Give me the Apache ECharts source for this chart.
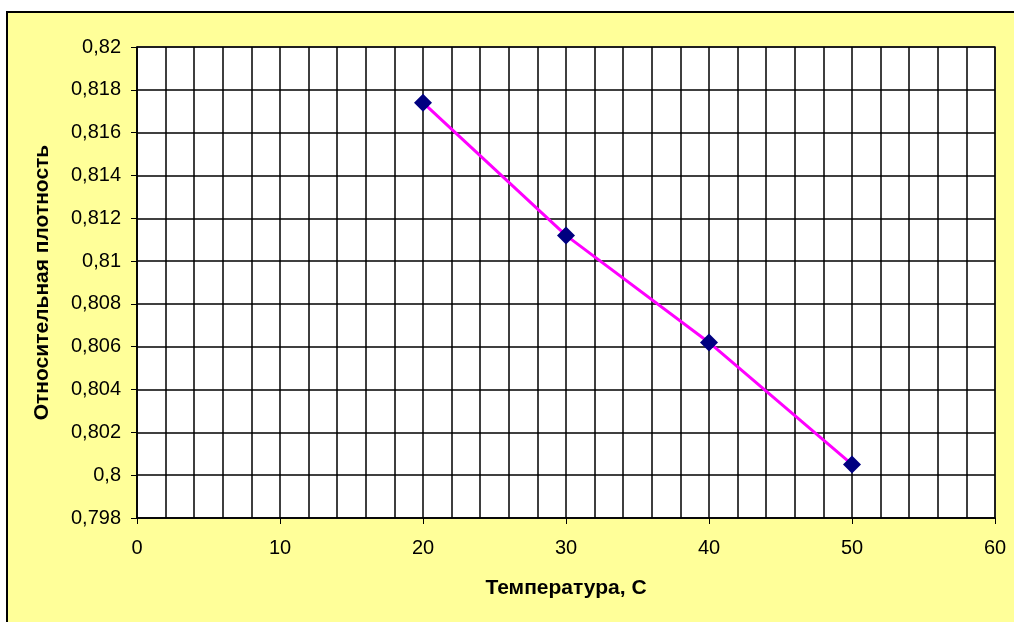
<!DOCTYPE html>
<html><head><meta charset="utf-8">
<script src="https://cdn.jsdelivr.net/npm/echarts@6/dist/echarts.min.js"></script>
<style>html,body{margin:0;padding:0;background:#fff}#c{width:1014px;height:622px}</style>
</head><body><div id="c"></div>
<script>
var temperatures = [20, 30, 40, 50];
var densities = [0.8174, 0.8112, 0.8062, 0.8005];
var xTitle = 'Температура, С';
var yTitle = 'Относительная плотность';

var chart = echarts.init(document.getElementById('c'));
var font = '"Liberation Sans", Arial, sans-serif';
function fmt(v){ return String(parseFloat(v.toFixed(3))).replace('.', ','); }
chart.setOption({
  backgroundColor: '#ffffff',
  animation: false,
  graphic: [{
    type: 'rect', z: -10, silent: true,
    shape: {x: 7, y: 12, width: 1100, height: 700},
    style: {fill: '#FFFF99', stroke: '#000', lineWidth: 2}
  }],
  grid: {left: 137, top: 47, width: 858, height: 471, show: true,
         backgroundColor: '#ffffff', borderColor: '#808080', borderWidth: 2},
  xAxis: {
    type: 'value', min: 0, max: 60, interval: 10,
    name: xTitle, nameLocation: 'middle', nameGap: 60,
    nameTextStyle: {fontFamily: font, fontSize: 21, fontWeight: 'bold', color: '#000'},
    axisLine: {show: true, lineStyle: {color: '#000', width: 1.5}},
    axisTick: {show: true, length: 6, lineStyle: {color: '#000'}},
    axisLabel: {fontFamily: font, fontSize: 20, color: '#000', margin: 20},
    splitLine: {show: true, lineStyle: {color: '#000', width: 1.5}},
    minorTick: {show: false, splitNumber: 5},
    minorSplitLine: {show: true, lineStyle: {color: '#000', width: 1.5}}
  },
  yAxis: {
    type: 'value', min: 0.798, max: 0.82, interval: 0.002,
    name: yTitle, nameLocation: 'middle', nameGap: 84, nameRotate: 90,
    nameTextStyle: {fontFamily: font, fontSize: 21, fontWeight: 'bold', color: '#000'},
    axisLine: {show: true, lineStyle: {color: '#000', width: 1.5}},
    axisTick: {show: true, length: 6, lineStyle: {color: '#000'}},
    axisLabel: {fontFamily: font, fontSize: 20, color: '#000', margin: 16, formatter: fmt},
    splitLine: {show: true, lineStyle: {color: '#000', width: 1.5}}
  },
  series: [{
    type: 'line',
    data: temperatures.map(function(t, i){ return [t, densities[i]]; }),
    symbol: 'diamond', symbolSize: 18,
    itemStyle: {color: '#000080'},
    lineStyle: {color: '#FF00FF', width: 3}
  }]
});
</script>
</body></html>
